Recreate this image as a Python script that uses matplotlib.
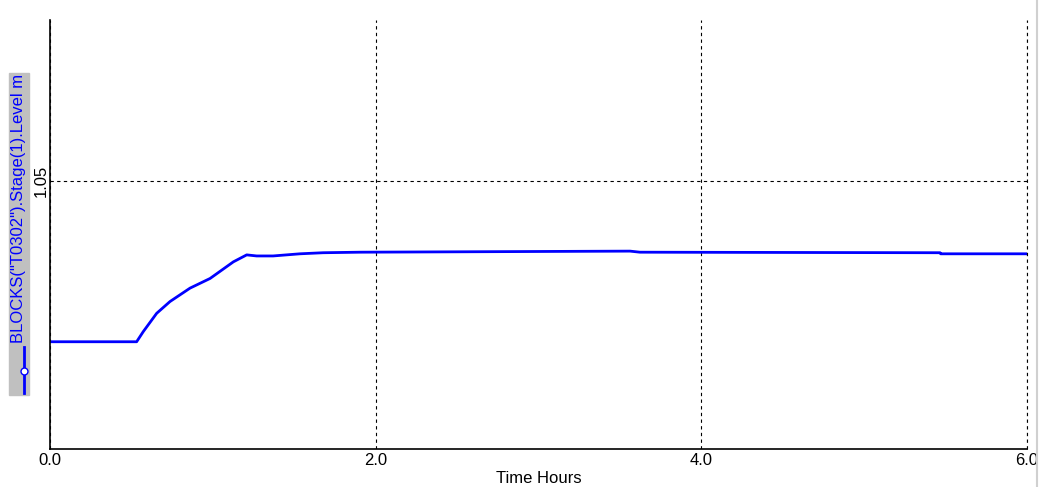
import matplotlib.pyplot as plt
from matplotlib.lines import Line2D

# level trace
hours = [0.0, 0.532, 0.573, 0.655, 0.737, 0.860, 0.983, 1.126, 1.208, 1.269,
         1.370, 1.535, 1.677, 1.904, 3.562, 3.623, 5.466, 5.470, 6.0]
level = [1.0200, 1.0200, 1.0219, 1.0253, 1.0275, 1.0300, 1.0318, 1.0349, 1.0362,
         1.0360, 1.0360, 1.0364, 1.0366, 1.0367, 1.0369, 1.0367, 1.0366, 1.0364, 1.0364]

x_ticks = [0.0, 2.0, 4.0, 6.0]
y_ticks = [1.05]
series_name = 'BLOCKS("T0302").Stage(1).Level m'

plt.rcParams['font.family'] = ['Liberation Sans Narrow', 'Liberation Sans', 'DejaVu Sans']

fig = plt.figure(figsize=(10.4, 4.87), dpi=100)
ax = fig.add_axes([50 / 1040, 38 / 487, 977 / 1040, 429 / 487])

ax.plot(hours, level, color='#0000ff', linewidth=2)

ax.set_xlim(0, 6)
ax.set_ylim(1.0, 1.08)
ax.set_xticks(x_ticks)
ax.set_xticklabels([f'{t:.1f}' for t in x_ticks], fontsize=12)
ax.set_yticks(y_ticks)
ax.set_yticklabels(['1.05'], fontsize=12, rotation=90, va='center')
ax.tick_params(axis='both', length=0, pad=3)
ax.tick_params(axis='y', pad=1)
ax.grid(True, color='black', linestyle=(0, (3, 3)), linewidth=0.8)
# gridline on the right edge would be half clipped
ax.axvline(6.0, color='black', linestyle=(0, (3, 3)), linewidth=0.8, clip_on=False)
ax.spines['top'].set_visible(False)
ax.spines['right'].set_visible(False)
ax.spines['left'].set_linewidth(1.2)
ax.spines['bottom'].set_linewidth(1.2)
ax.set_xlabel('Time Hours', fontsize=12, labelpad=2)

# legend-style y label in grey box
fig.patches.append(plt.Rectangle((9 / 1040, 92 / 487), 20 / 1040, 322 / 487,
                                 transform=fig.transFigure, color='#c0c0c0', zorder=0))
fig.text(19 / 1040, (487 - 74) / 487, series_name, rotation=90, color='#0000ff',
         fontsize=12, ha='center', va='top', family=['Liberation Sans', 'DejaVu Sans'])
fig.add_artist(Line2D([24 / 1040, 24 / 1040], [(487 - 393) / 487, (487 - 347) / 487],
                      transform=fig.transFigure, color='#0000ff', linewidth=2))
fig.add_artist(Line2D([24 / 1040], [(487 - 371) / 487], transform=fig.transFigure,
                      marker='o', markersize=5, markerfacecolor='white',
                      markeredgecolor='#0000ff', linestyle='none'))
# window edge on the right
fig.add_artist(Line2D([1037 / 1040, 1037 / 1040], [0, 1], transform=fig.transFigure,
                      color='#d0d0d0', linewidth=1.5))

fig.savefig('out.png', dpi=100)
